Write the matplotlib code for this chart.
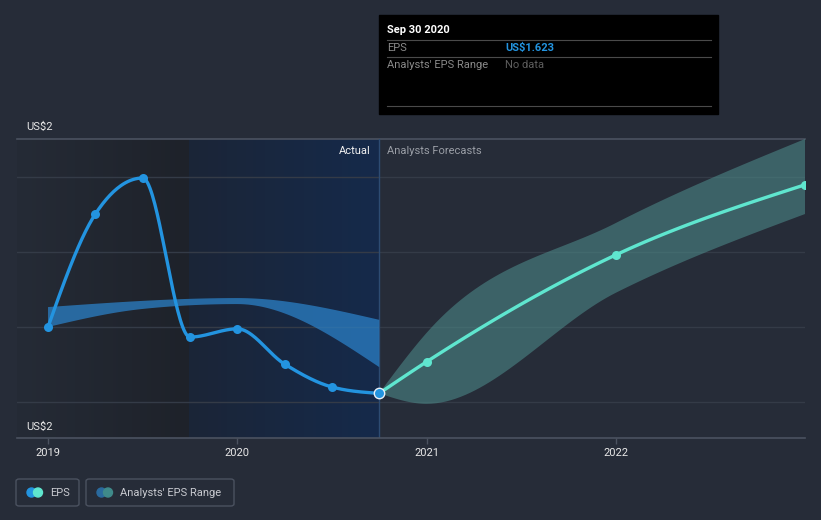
import numpy as np
import matplotlib
matplotlib.use("Agg")
import matplotlib.pyplot as plt
from matplotlib.patches import Rectangle, FancyBboxPatch

plt.rcParams['font.family'] = ['Roboto', 'DejaVu Sans']

# ---------------- data ----------------
eps_dates = [2019.0, 2019.25, 2019.5, 2019.75, 2020.0, 2020.25, 2020.5, 2020.75]
eps_values = [1.800, 2.101, 2.197, 1.773, 1.795, 1.701, 1.640, 1.623]

fc_dates = [2020.75, 2021.0, 2022.0, 2023.0]
fc_values = [1.623, 1.707, 1.992, 2.179]
fc_low = [1.623, 1.595, 1.891, 2.101]
fc_high = [1.623, 1.784, 2.077, 2.301]

hist_low_dates = [2019.0, 2019.5, 2020.0, 2020.75]
hist_low = [1.800, 1.848, 1.861, 1.693]
hist_high_dates = [2019.0, 2020.0, 2020.75]
hist_high = [1.853, 1.877, 1.819]

year_ticks = [2019, 2020, 2021, 2022]
year_labels = ["2019", "2020", "2021", "2022"]
y_label_text = ["US$2", "US$2"]
grid_values = [1.6, 1.8, 2.0, 2.2]

tooltip_date = "Sep 30 2020"
tooltip_eps = "US$1.623"

# ---------------- helpers ----------------
def monotone(x, y, n=40):
    x = np.asarray(x, float); y = np.asarray(y, float)
    m = len(x)
    if m == 2:
        return np.linspace(x[0], x[1], n), np.linspace(y[0], y[1], n)
    h = np.diff(x); s = np.diff(y) / h
    sg = lambda v: -1.0 if v < 0 else 1.0
    t = np.zeros(m)
    for i in range(1, m - 1):
        p = (s[i - 1] * h[i] + s[i] * h[i - 1]) / (h[i - 1] + h[i])
        t[i] = (sg(s[i - 1]) + sg(s[i])) * min(abs(s[i - 1]), abs(s[i]), 0.5 * abs(p))
    t[0] = (3 * s[0] - t[1]) / 2
    t[-1] = (3 * s[-1] - t[-2]) / 2
    xs, ys = [], []
    for i in range(m - 1):
        u = np.linspace(0, 1, n)
        h00 = 2 * u**3 - 3 * u**2 + 1
        h10 = u**3 - 2 * u**2 + u
        h01 = -2 * u**3 + 3 * u**2
        h11 = u**3 - u**2
        yy = h00 * y[i] + h10 * h[i] * t[i] + h01 * y[i + 1] + h11 * h[i] * t[i + 1]
        xx = x[i] + u * h[i]
        if i > 0:
            xx = xx[1:]; yy = yy[1:]
        xs.append(xx); ys.append(yy)
    return np.concatenate(xs), np.concatenate(ys)

def band(ax, xl, yl, xh, yh, **kw):
    lx, ly = monotone(xl, yl)
    hx, hy = monotone(xh, yh)
    px = np.concatenate([hx, lx[::-1]])
    py = np.concatenate([hy, ly[::-1]])
    ax.fill(px, py, lw=0, **kw)

# ---------------- figure ----------------
W, H = 821, 520
BG = '#262c38'
fig = plt.figure(figsize=(W / 100, H / 100), dpi=100, facecolor=BG)

def fx(px): return px / W
def fy(py): return 1 - py / H

ax = fig.add_axes([fx(17), fy(438), fx(805) - fx(17), fy(139) - fy(438)])
ax.set_facecolor(BG)
x0, x1 = 2018.836, 2023.0
y0, y1 = 1.504, 2.301

def hgrad(c0, c1, xa, xb):
    c0 = np.array(matplotlib.colors.to_rgb(c0)); c1 = np.array(matplotlib.colors.to_rgb(c1))
    u = np.linspace(0, 1, 256)[None, :, None]
    img = c0[None, None, :] * (1 - u) + c1[None, None, :] * u
    ax.imshow(img, extent=[xa, xb, y0, y1], aspect='auto', zorder=0, interpolation='bilinear')

hgrad('#252b36', '#1e222a', x0, 2019.745)
hgrad('#1b2537', '#152a4b', 2019.745, 2020.75)
ax.set_xlim(x0, x1)
ax.set_ylim(y0, y1)

for g in grid_values:
    ax.axhline(g, color='#343b47', lw=1.0, zorder=1)
ax.axhline(y1, color='#4b5260', lw=1.2, zorder=1, clip_on=False)
ax.axvline(2020.75, color='#2d4b72', lw=1.0, zorder=1)

# historical analyst range band
band(ax, hist_low_dates, hist_low, hist_high_dates, hist_high, color='#2b80c6', alpha=0.75, zorder=2)

# forecast range band
band(ax, fc_dates, fc_low, fc_dates, fc_high, color='#4f8f8e', alpha=0.55, zorder=2)

# EPS line
ex, ey = monotone(eps_dates, eps_values)
ax.plot(ex, ey, color='#2394e0', lw=2.4, zorder=4, solid_capstyle='round')
ax.plot(eps_dates[:-1], eps_values[:-1], 'o', color='#2394e0', ms=6.5, zorder=5, mec='none')

# forecast line
cx, cy = monotone(fc_dates, fc_values)
ax.plot(cx, cy, color='#5fe6cf', lw=2.4, zorder=4, solid_capstyle='round')
ax.plot(fc_dates[1:], fc_values[1:], 'o', color='#5fe6cf', ms=6.5, zorder=5, mec='none')
ax.plot([eps_dates[-1]], [eps_values[-1]], 'o', color='#2394e0', ms=7.5, mec='#e8f0f8',
        mew=1.0, zorder=6)

# axes styling
for sp in ['top', 'right', 'left']:
    ax.spines[sp].set_visible(False)
ax.spines['bottom'].set_color('#4b5260')
ax.spines['bottom'].set_linewidth(1.2)
ax.set_yticks([])
ax.set_xticks(year_ticks)
ax.set_xticklabels(year_labels)
ax.tick_params(axis='x', colors='#4b5260', length=4, width=1, pad=3, labelcolor='#e8e8e8',
               labelsize=8)

# y labels
fig.text(fx(26), fy(127), y_label_text[0], color='#e8e8e8', fontsize=8, va='center', ha='left')
fig.text(fx(26), fy(427), y_label_text[1], color='#e8e8e8', fontsize=8, va='center', ha='left')

# Actual / Forecast labels
fig.text(fx(371), fy(151), "Actual", color='#f0f0f0', fontsize=8, va='center', ha='right')
fig.text(fx(387), fy(151), "Analysts Forecasts", color='#9a9ea6', fontsize=8, va='center', ha='left')

# tooltip
fig.patches.append(Rectangle((fx(379), fy(114)), fx(718) - fx(379), fy(15) - fy(114),
                             transform=fig.transFigure, color='black', zorder=10))
for ly in [40, 57, 106.5]:
    fig.add_artist(plt.Line2D([fx(387), fx(711)], [fy(ly), fy(ly)], color='#4a4a4a', lw=0.8,
                              transform=fig.transFigure, zorder=11))
fig.text(fx(387), fy(30), tooltip_date, color='white', fontsize=8, fontweight='bold',
         va='center', ha='left', zorder=12)
fig.text(fx(387), fy(48), "EPS", color='#8a8a8a', fontsize=8, va='center', ha='left', zorder=12)
fig.text(fx(505), fy(48), tooltip_eps, color='#2394e0', fontsize=8, fontweight='bold',
         va='center', ha='left', zorder=12)
fig.text(fx(387), fy(65), "Analysts' EPS Range", color='#8a8a8a', fontsize=8, va='center',
         ha='left', zorder=12)
fig.text(fx(505), fy(65), "No data", color='#5e5e5e', fontsize=8, va='center', ha='left', zorder=12)

# legend
def legend_box(xa, xb, label, c1, c2):
    fig.patches.append(FancyBboxPatch((fx(xa), fy(506)), fx(xb) - fx(xa), fy(479) - fy(506),
                                      boxstyle='round,pad=0,rounding_size=0.004',
                                      transform=fig.transFigure, facecolor='none',
                                      edgecolor='#4b5260', lw=1.0))
    r = 4.5
    for cxp, col in [(xa + 15.5, c1), (xa + 22, c2)]:
        fig.patches.append(matplotlib.patches.Ellipse((fx(cxp), fy(492.5)), 2 * r / W, 2 * r / H,
                                                      transform=fig.transFigure, color=col))
    fig.text(fx(xa + 34), fy(492.5), label, color='#c8cad0', fontsize=8, va='center', ha='left')

legend_box(16, 79, "EPS", '#2394e0', '#5fe6cf')
legend_box(86, 234, "Analysts' EPS Range", '#2a6a9e', '#3f8a8a')

fig.savefig('out.png', dpi=100, facecolor=BG)
